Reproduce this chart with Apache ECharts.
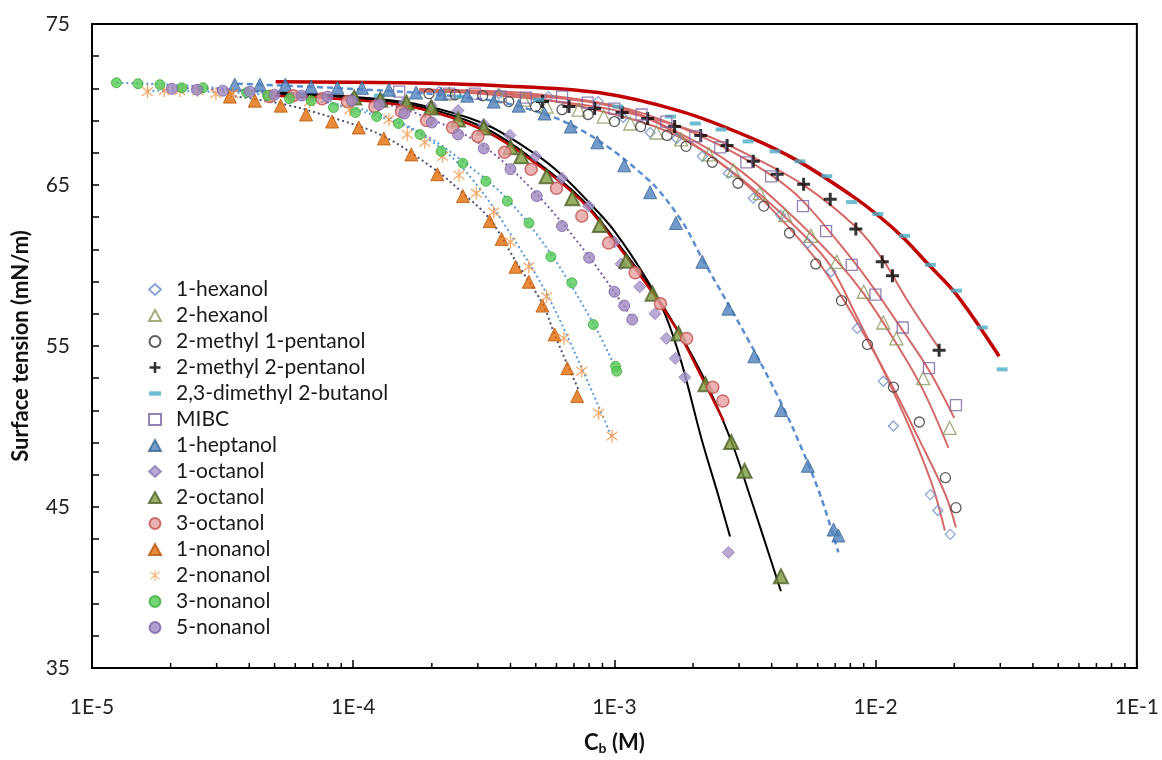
<!DOCTYPE html>
<html><head><meta charset="utf-8">
<script src="https://cdn.jsdelivr.net/npm/echarts@6/dist/echarts.min.js"></script>
<style>html,body{margin:0;padding:0;background:#fff}#c{width:1162px;height:760px}</style>
</head><body><div id="c"></div>
<script>
// ---- data (concentration M, surface tension mN/m) ----
const hexanol1 = [[2.13e-4,70.80],[3.61e-4,70.67],[5.59e-4,70.49],[8.67e-4,70.18],[1.08e-3,69.19],[1.37e-3,68.26],[1.73e-3,67.89],[2.17e-3,66.78],[2.73e-3,65.73],[3.4e-3,64.18],[4.33e-3,63.13],[5.5e-3,61.4],[6.75e-3,59.61],[8.5e-3,56.09],[1.07e-2,52.81],[1.17e-2,50.03],[1.62e-2,45.77],[1.73e-2,44.78],[1.93e-2,43.3]];
const hexanol2 = [[2.33e-4,70.67],[3.61e-4,70.55],[4.5e-4,70.30],[5.5e-4,69.87],[7.3e-4,69.68],[9.1e-4,69.25],[1.15e-3,68.82],[1.45e-3,68.26],[1.8e-3,67.83],[2.3e-3,66.9],[2.85e-3,65.91],[3.6e-3,64.49],[4.5e-3,63.13],[5.65e-3,61.84],[7.1e-3,60.23],[9.0e-3,58.37],[1.07e-2,56.46],[1.2e-2,55.47],[1.52e-2,53.0],[1.92e-2,49.91]];
const methyl1pentanol = [[1.95e-4,70.67],[2.46e-4,70.61],[3.13e-4,70.55],[3.94e-4,70.18],[4.99e-4,69.87],[6.3e-4,69.68],[7.93e-4,69.38],[1.0e-3,68.94],[1.26e-3,68.63],[1.59e-3,68.08],[1.88e-3,67.40],[2.37e-3,66.41],[2.97e-3,65.11],[3.73e-3,63.69],[4.68e-3,62.02],[5.9e-3,60.1],[7.4e-3,57.82],[9.3e-3,55.1],[1.17e-2,52.44],[1.47e-2,50.28],[1.85e-2,46.82],[2.03e-2,44.96]];
const methyl2pentanol = [[5.3e-4,70.18],[6.7e-4,69.87],[8.4e-4,69.75],[1.07e-3,69.50],[1.34e-3,69.13],[1.7e-3,68.63],[2.14e-3,68.08],[2.7e-3,67.46],[3.4e-3,66.47],[4.2e-3,65.67],[5.3e-3,65.05],[6.7e-3,64.12],[8.4e-3,62.27],[1.06e-2,60.23],[1.16e-2,59.36],[1.75e-2,54.73]];
const dimethylbutanol = [[6.23e-5,70.61],[1.26e-4,70.55],[2.54e-4,70.49],[5.12e-4,70.30],[1.03e-3,69.87],[1.64e-3,69.25],[2.04e-3,68.82],[2.56e-3,68.45],[3.25e-3,67.71],[4.12e-3,67.09],[5.13e-3,66.47],[6.50e-3,65.55],[8.09e-3,63.94],[1.02e-2,63.20],[1.29e-2,61.84],[1.62e-2,60.04],[2.04e-2,58.44],[2.56e-2,56.15],[3.05e-2,53.55]];
const mibc = [[1.5e-4,70.80],[2.33e-4,70.67],[2.92e-4,70.67],[3.67e-4,70.49],[4.58e-4,70.43],[6.3e-4,70.49],[7.9e-4,70.12],[1.0e-3,69.75],[1.27e-3,69.38],[1.58e-3,68.94],[2.04e-3,68.02],[2.54e-3,67.34],[3.2e-3,66.41],[3.98e-3,65.54],[5.27e-3,63.69],[6.46e-3,62.14],[8.1e-3,60.04],[9.98e-3,58.19],[1.27e-2,56.15],[1.6e-2,53.62],[2.03e-2,51.33]];
const heptanol1 = [[3.52e-5,71.23],[4.39e-5,71.23],[5.5e-5,71.23],[6.9e-5,71.1],[8.7e-5,71.04],[1.08e-4,71.04],[1.37e-4,70.92],[1.74e-4,70.74],[2.17e-4,70.67],[2.73e-4,70.55],[3.45e-4,70.18],[4.3e-4,69.93],[5.4e-4,69.44],[6.8e-4,68.63],[8.6e-4,67.65],[1.09e-3,66.22],[1.37e-3,64.55],[1.72e-3,62.64],[2.17e-3,60.23],[2.73e-3,57.32],[3.43e-3,54.36],[4.35e-3,51.02],[5.5e-3,47.56],[6.9e-3,43.6],[7.2e-3,43.23]];
const octanol1 = [[9.9e-5,70.36],[1.26e-4,70.24],[1.57e-4,70.12],[1.99e-4,69.93],[2.52e-4,69.62],[3.16e-4,68.76],[3.98e-4,68.08],[5.0e-4,66.78],[6.3e-4,65.42],[7.97e-4,63.69],[1.0e-3,61.46],[1.06e-3,60.1],[1.25e-3,58.68],[1.43e-3,57.01],[1.58e-3,55.47],[1.71e-3,54.23],[1.86e-3,53.06],[2.73e-3,42.18]];
const octanol2 = [[1.01e-4,70.43],[1.27e-4,70.30],[1.6e-4,70.12],[1.99e-4,69.81],[2.52e-4,69.07],[3.16e-4,68.57],[4.0e-4,67.34],[4.4e-4,66.78],[5.5e-4,65.54],[6.9e-4,64.18],[8.8e-4,62.52],[1.11e-3,60.29],[1.4e-3,58.25],[1.76e-3,55.78],[2.23e-3,52.63],[2.8e-3,49.04],[3.15e-3,47.25],[4.34e-3,40.70]];
const octanol3 = [[4.79e-5,70.49],[5.9e-5,70.55],[7.6e-5,70.36],[9.5e-5,70.18],[1.21e-4,69.87],[1.53e-4,69.56],[1.91e-4,69.0],[2.4e-4,68.57],[3.0e-4,68.02],[3.8e-4,67.03],[4.8e-4,65.98],[6.0e-4,64.8],[7.5e-4,63.07],[9.5e-4,61.40],[1.2e-3,59.55],[1.5e-3,57.63],[1.89e-3,55.47],[2.38e-3,52.44],[2.6e-3,51.58]];
const nonanol1 = [[3.37e-5,70.49],[4.2e-5,70.24],[5.28e-5,69.93],[6.6e-5,69.38],[8.3e-5,68.94],[1.05e-4,68.57],[1.31e-4,67.89],[1.67e-4,66.90],[2.1e-4,65.67],[2.63e-4,64.31],[3.33e-4,62.76],[3.7e-4,61.65],[4.18e-4,59.92],[4.70e-4,58.99],[5.3e-4,57.51],[5.9e-4,55.72],[6.6e-4,53.62],[7.2e-4,51.89]];
const nonanol2 = [[1.63e-5,70.80],[1.89e-5,70.86],[2.17e-5,70.86],[2.54e-5,70.86],[2.98e-5,70.67],[3.46e-5,70.67],[4.79e-5,70.55],[6.8e-5,70.18],[9.7e-5,69.68],[1.37e-4,69.07],[1.61e-4,68.14],[1.88e-4,67.65],[2.2e-4,66.78],[2.54e-4,65.61],[2.96e-4,64.49],[3.45e-4,63.32],[4.0e-4,61.46],[4.70e-4,59.92],[5.5e-4,58.07],[6.4e-4,55.47],[7.5e-4,53.43],[8.7e-4,50.83],[9.8e-4,49.41]];
const nonanol3 = [[1.24e-5,71.35],[1.50e-5,71.29],[1.82e-5,71.23],[2.21e-5,71.04],[2.66e-5,71.04],[3.91e-5,70.74],[4.7e-5,70.55],[5.7e-5,70.36],[6.9e-5,70.24],[8.4e-5,69.81],[1.02e-4,69.50],[1.23e-4,69.25],[1.49e-4,68.82],[1.80e-4,68.14],[2.17e-4,67.09],[2.63e-4,66.35],[3.22e-4,65.23],[3.89e-4,64.00],[4.71e-4,62.64],[5.71e-4,60.54],[6.87e-4,58.93],[8.30e-4,56.33],[1.01e-3,53.74],[1.02e-3,53.43]];
const nonanol5 = [[2.02e-5,70.98],[2.52e-5,70.92],[3.17e-5,70.86],[4.02e-5,70.80],[5.0e-5,70.61],[6.35e-5,70.55],[7.98e-5,70.49],[9.9e-5,70.24],[1.26e-4,69.99],[1.57e-4,69.44],[2.0e-4,68.88],[2.52e-4,68.14],[3.16e-4,67.27],[4.0e-4,65.98],[5.04e-4,64.31],[6.3e-4,62.45],[8.0e-4,60.48],[1.0e-3,58.37],[1.09e-3,57.51],[1.17e-3,56.64]];

// ---- fitted curves ----
const fitHexanol1 = [[1.79e-4,70.80],[4.3e-4,70.61],[8.67e-4,70.12],[1.37e-3,69.07],[2.15e-3,67.21],[3.35e-3,64.86],[5.4e-3,61.77],[6.75e-3,59.92],[8.46e-3,56.83],[1.07e-2,53.49],[1.35e-2,49.91],[1.65e-2,46.32],[1.84e-2,43.54]];
const fitMethyl1pentanol = [[1.79e-4,70.80],[4.3e-4,70.55],[1.0e-3,69.38],[1.59e-3,68.33],[2.37e-3,66.72],[3.73e-3,64.0],[5.9e-3,60.41],[7.4e-3,58.07],[9.3e-3,55.35],[1.17e-2,52.38],[1.47e-2,49.17],[1.85e-2,45.77],[2.03e-2,43.73]];
const fitHexanol2 = [[1.79e-4,70.86],[4.3e-4,70.61],[1.03e-3,69.81],[1.81e-3,68.14],[2.85e-3,66.22],[4.5e-3,63.50],[7.1e-3,60.29],[9.0e-3,58.25],[1.2e-2,55.16],[1.52e-2,52.26],[1.9e-2,48.67]];
const fitMibc = [[1.79e-4,70.92],[4.3e-4,70.74],[1.0e-3,69.93],[1.58e-3,68.94],[2.54e-3,67.46],[3.98e-3,65.61],[5.27e-3,64.0],[8.1e-3,60.41],[9.98e-3,58.44],[1.27e-2,55.96],[1.6e-2,53.49],[2.0e-2,50.53]];
const fitMethyl2pentanol = [[1.79e-4,70.98],[5.3e-4,70.30],[1.07e-3,69.56],[2.14e-3,68.2],[3.4e-3,66.72],[5.3e-3,64.99],[8.4e-3,62.39],[1.06e-2,60.41],[1.31e-2,57.94],[1.75e-2,54.85]];
const fitDimethylbutanol = [[5.05e-5,71.42],[1.5e-4,71.35],[3.61e-4,71.17],[8.67e-4,70.74],[1.81e-3,69.56],[3.23e-3,68.02],[5.0e-3,66.53],[8.05e-3,64.37],[1.05e-2,62.95],[1.29e-2,61.65],[1.57e-2,60.17],[2.04e-2,58.19],[2.97e-2,54.36]];
const fitOctanol1 = [[5.1e-5,70.74],[9.67e-5,70.49],[1.79e-4,69.99],[3.16e-4,68.82],[5.0e-4,66.90],[6.3e-4,65.61],[7.97e-4,63.94],[1.0e-3,62.14],[1.34e-3,59.05],[1.57e-3,56.89],[1.81e-3,53.92],[2.15e-3,49.29],[2.5e-3,45.70],[2.77e-3,43.17]];
const fitOctanol2 = [[5.1e-5,70.67],[9.67e-5,70.43],[1.79e-4,69.87],[3.16e-4,68.57],[5.0e-4,66.47],[7.5e-4,64.12],[1.0e-3,61.65],[1.4e-3,58.44],[1.76e-3,55.90],[2.23e-3,52.81],[2.8e-3,49.10],[3.3e-3,45.70],[4.34e-3,39.77]];
const fitOctanol3 = [[5.0e-5,70.55],[9.67e-5,70.30],[1.79e-4,69.75],[3.16e-4,68.39],[5.0e-4,66.35],[7.5e-4,64.0],[1.0e-3,61.53],[1.4e-3,58.31],[1.76e-3,55.84],[2.15e-3,53.12],[2.62e-3,50.34]];
const fitHeptanol1 = [[3.59e-5,71.29],[9.67e-5,70.98],[2.33e-4,70.55],[4.2e-4,69.93],[7.5e-4,68.39],[1.34e-3,65.36],[1.81e-3,62.76],[2.15e-3,60.54],[3.23e-3,55.47],[4.35e-3,51.45],[5.2e-3,48.67],[6.15e-3,45.70],[7.2e-3,42.18]];
const fitNonanol1 = [[3.37e-5,70.55],[5.28e-5,70.06],[8.3e-5,69.19],[1.31e-4,68.02],[2.1e-4,65.85],[2.63e-4,64.49],[3.33e-4,62.89],[4.18e-4,60.29],[5.3e-4,57.63],[5.9e-4,55.72],[6.6e-4,53.86],[7.3e-4,52.26]];
const fitNonanol2 = [[1.63e-5,70.86],[3.46e-5,70.74],[6.8e-5,70.30],[1.37e-4,69.19],[2.2e-4,67.21],[2.96e-4,65.05],[4.0e-4,61.96],[5.5e-4,58.25],[7.5e-4,53.62],[9.8e-4,49.29]];
const fitNonanol3 = [[1.24e-5,71.35],[2.66e-5,71.11],[5.7e-5,70.49],[1.02e-4,69.68],[1.80e-4,68.26],[2.63e-4,66.47],[3.89e-4,64.12],[5.71e-4,60.72],[8.3e-4,56.40],[1.02e-3,53.49]];
const fitNonanol5 = [[2.02e-5,71.04],[4.02e-5,70.86],[7.98e-5,70.55],[1.26e-4,70.12],[2.0e-4,69.07],[3.16e-4,67.40],[5.04e-4,64.43],[8.0e-4,60.54],[1.17e-3,56.71]];

const xMinorTicks = [2e-5,3e-5,4e-5,5e-5,6e-5,7e-5,8e-5,9e-5,2e-4,3e-4,4e-4,5e-4,6e-4,7e-4,8e-4,9e-4,2e-3,3e-3,4e-3,5e-3,6e-3,7e-3,8e-3,9e-3,2e-2,3e-2,4e-2,5e-2,6e-2,7e-2,8e-2,9e-2];
const legendNames = ['1-hexanol','2-hexanol','2-methyl 1-pentanol','2-methyl 2-pentanol','2,3-dimethyl 2-butanol','MIBC','1-heptanol','1-octanol','2-octanol','3-octanol','1-nonanol','2-nonanol','3-nonanol','5-nonanol'];

const FONT = 'Lato, "Open Sans", sans-serif';
const PLUS = 'path://M5,0h3v5h5v3h-5v5h-3v-5h-5v-3h5z';
const DASH = 'path://M0,0h11v4h-11z';
const STAR = 'path://M5.4,0h1.2v12h-1.2zM1.37,1.53L11.37,9.53L10.63,10.47L0.63,2.47zM10.63,1.53L11.37,2.47L1.37,10.47L0.63,9.53z';

function fit(data, color, width, type) {
  return {type:'line', data:data, showSymbol:false, smooth:0.35, silent:true,
    lineStyle:{color:color, width:width, type:type||'solid'}, z:2};
}
function pts(name, data, symbol, size, style, keep) {
  return {type:'scatter', name:name, data:data, symbol:symbol, symbolSize:size,
    symbolKeepAspect:keep !== false, itemStyle:style, z:5, silent:true};
}
const hollow = c => ({color:'rgba(0,0,0,0)', borderColor:c, borderWidth:1.3});

const series = [
  fit(fitHexanol1, '#D46A68', 2),
  fit(fitMethyl1pentanol, '#D46A68', 2),
  fit(fitHexanol2, '#D46A68', 2),
  fit(fitMibc, '#D46A68', 2),
  fit(fitMethyl2pentanol, '#D46A68', 2),
  fit(fitDimethylbutanol, '#C00000', 3.5),
  fit(fitHeptanol1, '#5B8FD0', 2.5, [6,4]),
  fit(fitNonanol1, '#4A4F6E', 2, [2,3]),
  fit(fitNonanol2, '#5B9BD5', 2, [2,3]),
  fit(fitNonanol3, '#5B9BD5', 2, [2,3]),
  fit(fitNonanol5, '#7A5C9E', 2, [2,3]),
  fit(fitOctanol1, '#000000', 2),
  fit(fitOctanol2, '#000000', 2),
  fit(fitOctanol3, '#C00000', 2.5),
  pts('1-hexanol', hexanol1, 'diamond', 10, hollow('#6F8FC9')),
  pts('2-hexanol', hexanol2, 'triangle', 13, hollow('#8A9A5B')),
  pts('2-methyl 1-pentanol', methyl1pentanol, 'circle', 10, hollow('#333333')),
  pts('2-methyl 2-pentanol', methyl2pentanol, PLUS, 13, {color:'#000'}),
  pts('2,3-dimethyl 2-butanol', dimethylbutanol, DASH, [11,4], {color:'#4BACC6'}, false),
  pts('MIBC', mibc, 'rect', 11, hollow('#7B64A2')),
  pts('1-heptanol', heptanol1, 'triangle', 13, {color:'#4F81BD', borderColor:'#3A6591', borderWidth:1}),
  pts('1-octanol', octanol1, 'diamond', 12, {color:'#A593C8', borderColor:'#8C7AB5', borderWidth:1}),
  pts('2-octanol', octanol2, 'triangle', 14, {color:'#7E9C3F', borderColor:'#4F6228', borderWidth:2}),
  pts('3-octanol', octanol3, 'circle', 12, {color:'#E6A0A0', borderColor:'#C0504D', borderWidth:1.5}),
  pts('1-nonanol', nonanol1, 'triangle', 13, {color:'#E36C09', borderColor:'#B65708', borderWidth:1}),
  pts('2-nonanol', nonanol2, STAR, 13, {color:'#F79646'}),
  pts('3-nonanol', nonanol3, 'circle', 10, {color:'#55C855', borderColor:'#3FAF3F', borderWidth:1}),
  pts('5-nonanol', nonanol5, 'circle', 11, {color:'#9D87C0', borderColor:'#8064A2', borderWidth:1}),
  {type:'custom', data:xMinorTicks.map(v=>[v,35]), silent:true, z:6,
    renderItem:function(params, api){
      const p = api.coord([api.value(0), 35]);
      return {type:'line', shape:{x1:p[0], y1:p[1], x2:p[0], y2:p[1]-5}, style:{stroke:'#000', lineWidth:1.5}};
    }}
];

const chart = echarts.init(document.getElementById('c'), null, {renderer:'canvas'});
chart.setOption({
  animation:false,
  backgroundColor:'#fff',
  grid:{left:92, right:22, top:24, bottom:89, show:true, borderColor:'#000', borderWidth:2, backgroundColor:'transparent'},
  legend:{data:legendNames, orient:'vertical', left:143, top:274, itemWidth:12, itemHeight:11, itemGap:5,
    selectedMode:false, symbolKeepAspect:true,
    textStyle:{fontFamily:FONT, fontSize:21, color:'#1a1a1a', lineHeight:21, padding:[0,0,0,10]}},
  xAxis:{type:'log', logBase:10, min:1e-5, max:0.1,
    axisLine:{lineStyle:{color:'#000', width:2}},
    axisTick:{inside:true, length:8, lineStyle:{color:'#000', width:1.5}},
    splitLine:{show:false},
    axisLabel:{margin:29, fontFamily:FONT, fontSize:21, color:'#222', formatter:v=>'1E'+Math.round(Math.log10(v))},
    name:'{b|C}{s|b}{b| (M)}', nameLocation:'middle', nameGap:62,
    nameTextStyle:{rich:{b:{fontFamily:FONT, fontSize:22, fontWeight:'bold', color:'#111'}, s:{fontFamily:FONT, fontSize:14, fontWeight:'bold', color:'#111', padding:[11,0,0,0]}}}},
  yAxis:{type:'value', min:35, max:75, interval:2,
    axisLine:{lineStyle:{color:'#000', width:2}},
    axisTick:{inside:true, length:7, lineStyle:{color:'#000', width:1.5}},
    splitLine:{show:false},
    axisLabel:{margin:22, fontFamily:FONT, fontSize:21, color:'#222', formatter:v=>((v-35)%10===0?String(v):'')},
    name:'Surface tension (mN/m)', nameLocation:'middle', nameGap:60,
    nameTextStyle:{fontFamily:FONT, fontSize:22, fontWeight:'bold', color:'#111'}},
  series:series
});
</script></body></html>
